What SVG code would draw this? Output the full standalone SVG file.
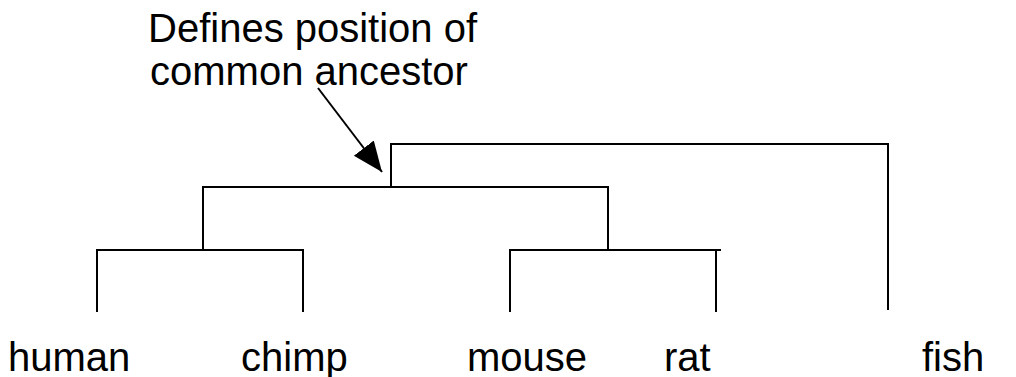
<svg xmlns="http://www.w3.org/2000/svg" width="1016" height="377" viewBox="0 0 1016 377">
<style>
.t{font-family:"Liberation Sans",Arial,sans-serif;font-size:40px;fill:#000}
.l{stroke:#000;stroke-width:2;fill:none}
</style>
<defs>
<marker id="ah" markerUnits="userSpaceOnUse" markerWidth="30" markerHeight="30" refX="24" refY="10" orient="auto" viewBox="0 0 24 20">
<path d="M0,0 L24,10 L0,20 Z" fill="#000"/>
</marker>
</defs>
<rect width="1016" height="377" fill="#fff"/>
<g id="label">
<text class="t" x="148" y="42">Defines position of</text>
<text class="t" x="150" y="85">common ancestor</text>
</g>
<g id="connectors">
<line class="l" x1="318" y1="88" x2="382" y2="172" marker-end="url(#ah)"/>
<path class="l" d="M391,187 V144 H888 V310"/>
<path class="l" d="M203,250 V187 H608 V250"/>
<path class="l" d="M97,312 V250 H303 V312"/>
<path class="l" d="M510,312 V250 H721 M716,250 V312"/>
</g>
<g id="human"><text class="t" x="8" y="371">human</text></g>
<g id="chimp"><text class="t" x="241" y="371">chimp</text></g>
<g id="mouse"><text class="t" x="467" y="371">mouse</text></g>
<g id="rat"><text class="t" x="664" y="371">rat</text></g>
<g id="fish"><text class="t" x="922" y="371">fish</text></g>
</svg>
